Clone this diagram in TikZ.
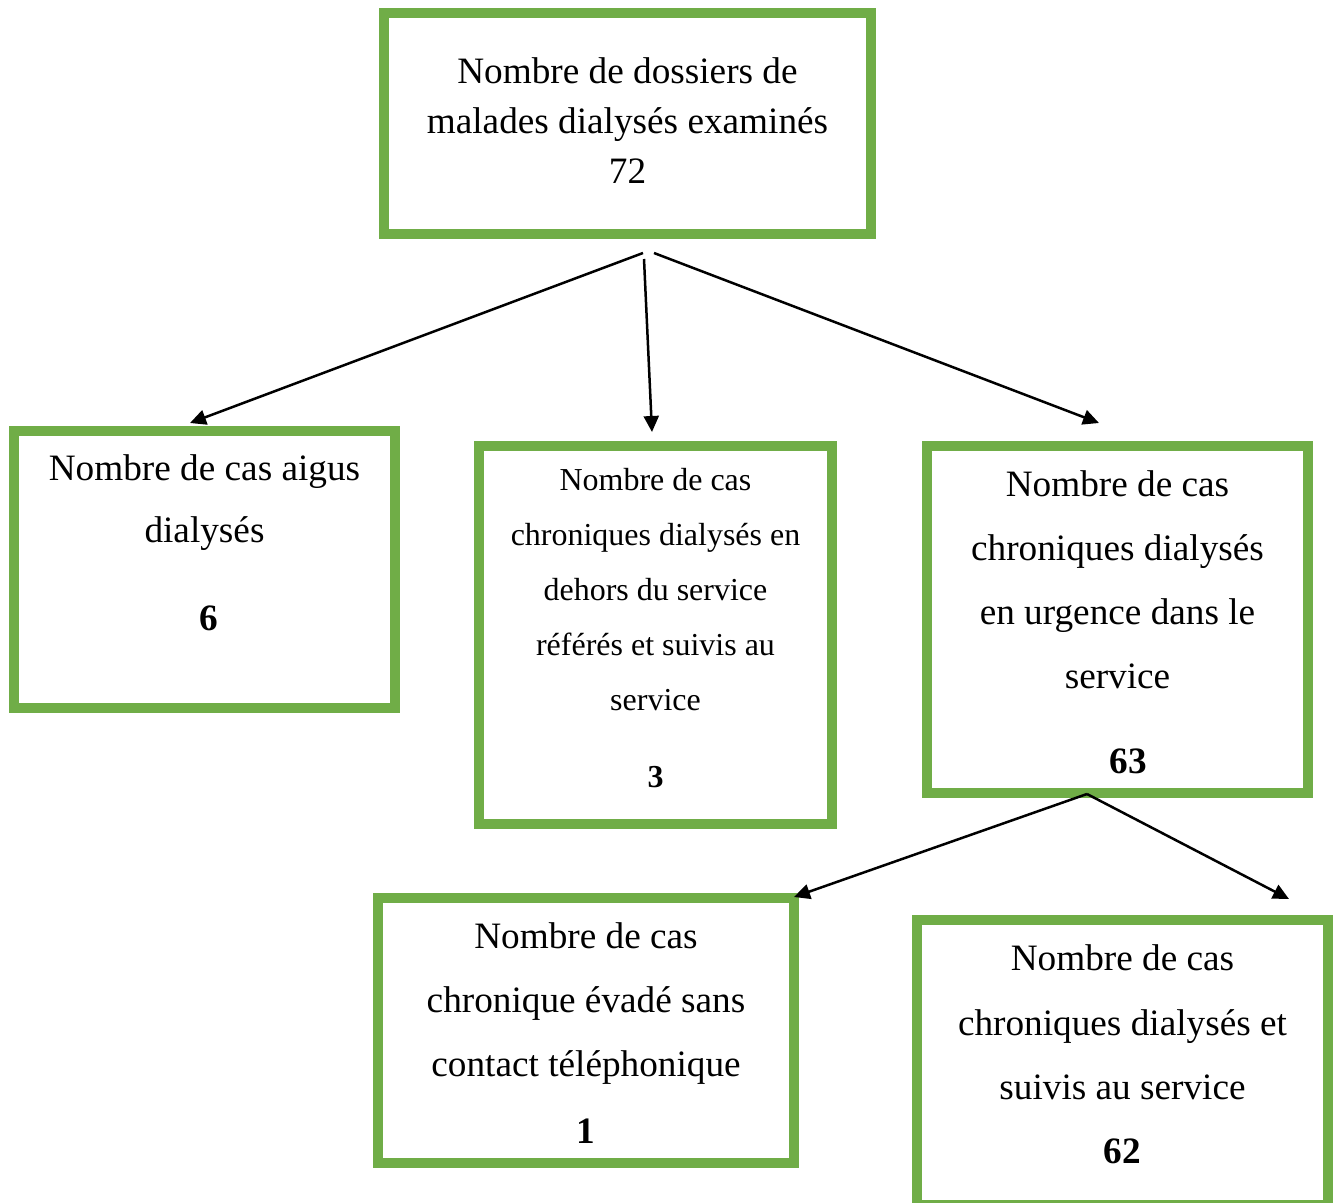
\documentclass[tikz,border=0pt]{standalone}
\usepackage{fontspec}
\setmainfont{Liberation Serif}
\usepackage{tikz}
\usetikzlibrary{arrows.meta}

\definecolor{casegreen}{HTML}{70AD47}
\newcommand{\padbelow}[1]{\rule[-#1]{0pt}{#1}}

\begin{document}
\begin{tikzpicture}[
    x=0.02cm, y=-0.02cm,
    casebox/.style={draw=casegreen, line width=0.21cm, inner sep=0pt, outer sep=0pt,
                    align=center},
    link/.style={-{Triangle[length=0.32cm, width=0.3cm]}, line width=0.05cm, black}
]
\useasboundingbox (0,0) rectangle (1336,1203);

% Boxes
\node[casebox, minimum width=9.74cm, minimum height=4.42cm,
      font=\fontsize{21.2}{28.45}\selectfont] (total) at (627.5,123.5)
      {Nombre de dossiers de\\malades dialysés examinés\\72\padbelow{0.12cm}};
\node[casebox, minimum width=7.62cm, minimum height=5.54cm,
      font=\fontsize{21.2}{35.3}\selectfont] (acute) at (204.5,569.5)
      {Nombre de cas aigus\\dialysés\\[14.8pt]\hspace*{0.18cm}\textbf{6}\padbelow{1.08cm}};
\node[casebox, minimum width=7.06cm, minimum height=7.56cm,
      font=\fontsize{18.2}{31.3}\selectfont] (outside) at (655.5,635)
      {Nombre de cas\\chroniques dialysés en\\dehors du service\\référés et suivis au\\service\\[12.5pt]\textbf{3}\padbelow{0.3cm}};
\node[casebox, minimum width=7.62cm, minimum height=6.94cm,
      font=\fontsize{21.2}{36.4}\selectfont] (urgent) at (1117.5,619.5)
      {\rule{0pt}{0.63cm}Nombre de cas\\chroniques dialysés\\en urgence dans le\\service\\[12.5pt]\hspace*{0.44cm}\textbf{63}};
\node[casebox, minimum width=8.32cm, minimum height=5.3cm,
      font=\fontsize{21.2}{36.4}\selectfont] (escaped) at (586,1030.5)
      {\rule{0pt}{0.63cm}Nombre de cas\\chronique évadé sans\\contact téléphonique\\[1.7pt]\textbf{1}};
\node[casebox, minimum width=8.22cm, minimum height=5.7cm,
      font=\fontsize{21.2}{36.6}\selectfont] (followed) at (1122.5,1062.5)
      {Nombre de cas\\chroniques dialysés et\\suivis au service\\\textbf{62}\padbelow{0.32cm}};

% Arrow ends
\coordinate (outL) at (643,253);
\coordinate (outM) at (644,259);
\coordinate (outR) at (654,253);
\coordinate (inacute) at (190,423);
\coordinate (inoutside) at (652,432);
\coordinate (inurgent) at (1099,423);
\coordinate (branch) at (1087,794);
\coordinate (inescaped) at (794,897);
\coordinate (infollowed) at (1289,899);

% Arrows
\draw[link] (outL) -- (inacute);
\draw[link] (outM) -- (inoutside);
\draw[link] (outR) -- (inurgent);
\draw[link] (branch) -- (inescaped);
\draw[link] (branch) -- (infollowed);

\end{tikzpicture}
\end{document}
